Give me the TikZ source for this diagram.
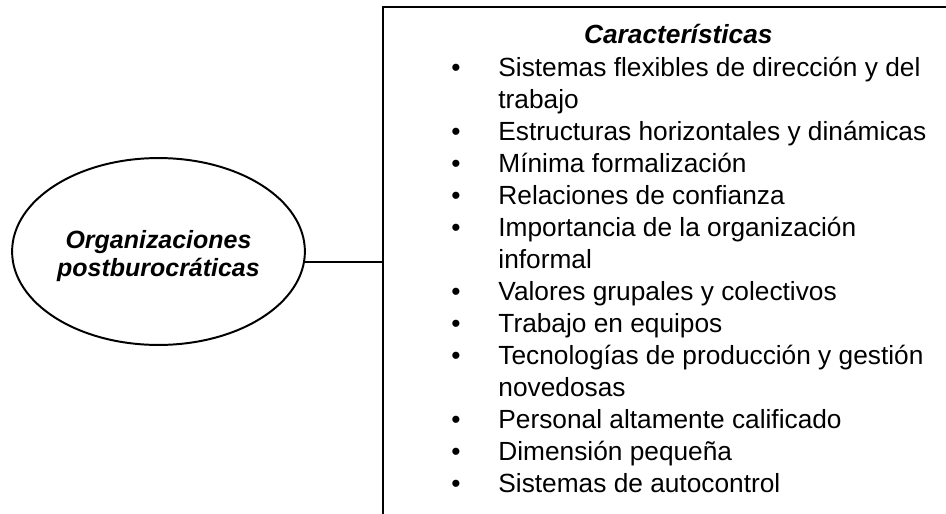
\documentclass[tikz,border=0pt]{standalone}
\usepackage{fontspec}
\setmainfont{Liberation Sans}
\usetikzlibrary{shapes.geometric}
\tikzset{
  marco/.style={line width=1pt},
  item/.style={anchor=base west, inner sep=0pt, font=\fontsize{12}{14}\selectfont},
  punto/.style={anchor=base, inner sep=0pt, font=\fontsize{12}{14}\selectfont},
}
\begin{document}
\begin{tikzpicture}[x=0.01605cm, y=-0.01605cm]
\useasboundingbox (0,0) rectangle (946,514);
% elipse
\node[shape=ellipse, minimum width=4.70cm, minimum height=3.00cm, line width=0.9pt, draw] (org) at (158.5,251.5) {};
\node[align=center, inner sep=0pt, font=\fontsize{11.4}{13.2}\selectfont\bfseries\itshape] (orgtxt) at (158.5,256) {Organizaciones\\postburocráticas};
% recuadro
\coordinate (caja) at (383,7);
\draw[marco] (383,520) -- (caja) -- (950,7);
\draw[marco] (org.-4) -- (org.-4 -| caja);
\node[item, anchor=base east, font=\fontsize{12}{14}\selectfont\bfseries\itshape] (tit) at (773,43) {Características};
% lista
\node[item] (l1) at (498,76) {Sistemas flexibles de dirección y del};
\node[item] (l2) at (498,108) {trabajo};
\node[item] (l3) at (498,140) {Estructuras horizontales y dinámicas};
\node[item] (l4) at (498,172) {Mínima formalización};
\node[item] (l5) at (498,204) {Relaciones de confianza};
\node[item] (l6) at (498,236) {Importancia de la organización};
\node[item] (l7) at (498,268) {informal};
\node[item] (l8) at (498,300) {Valores grupales y colectivos};
\node[item] (l9) at (498,332) {Trabajo en equipos};
\node[item] (l10) at (498,364) {Tecnologías de producción y gestión};
\node[item] (l11) at (498,396) {novedosas};
\node[item] (l12) at (498,428) {Personal altamente calificado};
\node[item] (l13) at (498,460) {Dimensión pequeña};
\node[item] (l14) at (498,492) {Sistemas de autocontrol};
\foreach \k in {1,3,4,5,6,8,9,10,12,13,14}
  \node[punto] (b\k) at (456,44+32*\k) {•};
\end{tikzpicture}
\end{document}
